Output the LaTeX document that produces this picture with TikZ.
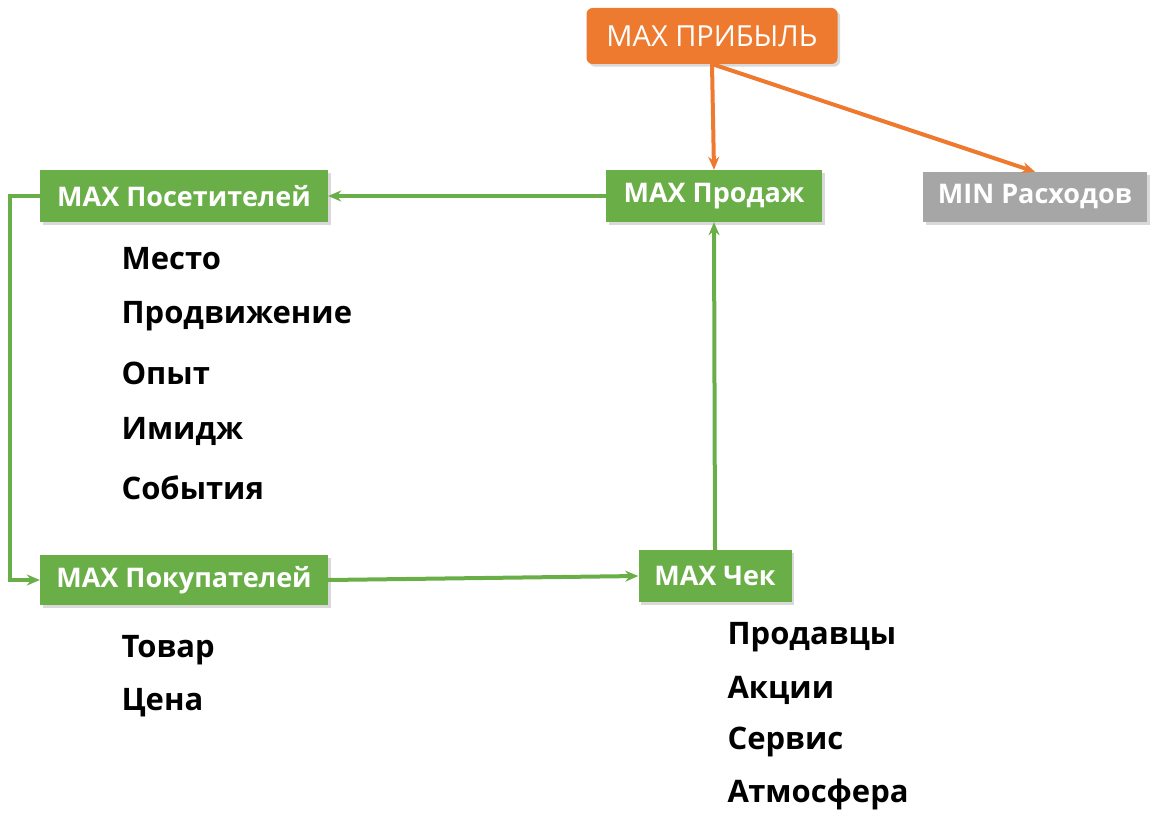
\documentclass[tikz,border=0pt]{standalone}
\usepackage{fontspec}
\setmainfont{Open Sans}
\usetikzlibrary{arrows.meta,positioning,shadows}
\definecolor{kpi-green}{HTML}{6AAE47}
\definecolor{kpi-orange}{HTML}{EE7A2F}
\definecolor{kpi-gray}{HTML}{A6A6A6}

\begin{document}
\begin{tikzpicture}[x=1pt,y=-1pt,
    box/.style={rectangle, inner sep=0pt, text=white, font=\fontsize{27}{31}\selectfont\bfseries,
                drop shadow={opacity=0.3}},
    goal/.style={box, fill=kpi-green, minimum height=52pt},
    item/.style={anchor=west, font=\fontsize{31}{36}\selectfont\bfseries},
    arrow/.style={-{Stealth[length=13pt,width=11pt]}, line width=4pt, draw=kpi-green},
    oarrow/.style={arrow, draw=kpi-orange}
]
  \useasboundingbox (0,0) rectangle (1159,816);

  % Top goal
  \node[box, fill=kpi-orange, rounded corners=6pt, minimum width=251pt, minimum height=56pt,
        font=\fontsize{29}{33}\selectfont] (profit) at (712,36) {MAX ПРИБЫЛЬ};

  % Second level
  \node[goal, minimum width=216pt] (sales) at (714,196) {MAX Продаж};
  \node[box, fill=kpi-gray, minimum width=224pt, minimum height=50pt] (costs) at (1035,197) {MIN Расходов};
  \node[goal, minimum width=288pt] (visitors) at (184,196) {MAX Посетителей};

  % Lower level
  \node[goal, minimum width=288pt, minimum height=50pt] (buyers) at (184,580) {MAX Покупателей};
  \node[goal, minimum width=153pt] (check) at (715,576) {MAX Чек};

  % Factors
  \node[item] (place) at (118,259) {Место};
  \node[item] (promo) at (118,316) {Продвижение};
  \node[item] (exp) at (118,373) {Опыт};
  \node[item] (image) at (118,431) {Имидж};
  \node[item] (events) at (118,488) {События};
  \node[item] (goods) at (118,650) {Товар};
  \node[item] (price) at (118,703) {Цена};
  \node[item] (sellers) at (724,637) {Продавцы};
  \node[item] (promos) at (724,690) {Акции};
  \node[item] (service) at (724,742) {Сервис};
  \node[item] (mood) at (724,794) {Атмосфера};

  % Arrows
  \coordinate (split) at (712,64);
  \coordinate (loop) at (10,196);
  \draw[oarrow] (split) -- (sales.north);
  \draw[oarrow] (split) -- (costs.north);
  \draw[arrow] (sales) -- (visitors);
  \draw[arrow] (check.north) -- (sales.south);
  \draw[arrow] (buyers.east) -- (check.west);
  \draw[arrow] (visitors.west) -- (loop) |- (buyers.west);

\end{tikzpicture}
\end{document}
